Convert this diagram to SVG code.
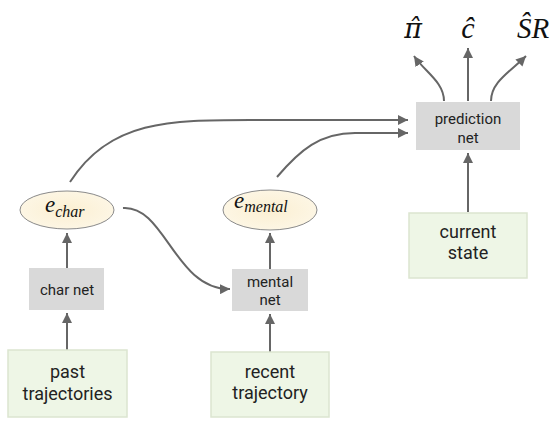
<svg xmlns="http://www.w3.org/2000/svg" width="560" height="425" viewBox="0 0 560 425">
<defs>
<marker id="ah" viewBox="0 0 10 10" refX="10" refY="5" markerWidth="10" markerHeight="10" markerUnits="userSpaceOnUse" orient="auto">
<path d="M0,0 L10,5 L0,10 Z" fill="#666"/>
</marker>
<radialGradient id="eg" cx="50%" cy="50%" r="50%">
<stop offset="0%" stop-color="#fbefd2"/>
<stop offset="100%" stop-color="#fdf6e4"/>
</radialGradient>
<style>
.gbox{fill:#eef6e6;stroke:#dbe5d0;stroke-width:1.5}
.nbox{fill:#d9d9d9}
.ell{fill:url(#eg);stroke:#8a8a8a;stroke-width:1}
.lbl{font-family:Roboto,"Liberation Sans",sans-serif;fill:#222;text-anchor:middle}
.big{font-size:18px}
.small{font-size:15px}
.math{font-family:"Liberation Serif","DejaVu Serif",serif;font-style:italic;fill:#111}
.conn path{fill:none;stroke:#666;stroke-width:2;marker-end:url(#ah)}
</style>
</defs>
<rect width="560" height="425" fill="#ffffff"/>
<g id="connectors" class="conn">
<path d="M67,350 L67,313"/>
<path d="M67,268 L67,233"/>
<path d="M270,352 L270,314"/>
<path d="M270,269 L270,233"/>
<path d="M468,212 L468,153"/>
<path d="M468,101 L468,48"/>
<path d="M444,101 C444,82 425,72 414,56"/>
<path d="M491,101 C491,82 510,72 526,56"/>
<path d="M70,182 C110,120 170,120 250,120 L408,120"/>
<path d="M277,177 C300,150 320,133 355,133 L408,133"/>
<path d="M123,208 C165,205 175,290 230,289"/>
</g>
<g id="past-trajectories">
<rect class="gbox" x="8" y="350" width="119" height="67"/>
<text class="lbl big" x="67.5" y="378">past</text>
<text class="lbl big" x="67.5" y="400">trajectories</text>
</g>
<g id="recent-trajectory">
<rect class="gbox" x="211" y="352" width="118" height="65"/>
<text class="lbl big" x="270" y="378">recent</text>
<text class="lbl big" x="270" y="399">trajectory</text>
</g>
<g id="current-state">
<rect class="gbox" x="409" y="213" width="118" height="65"/>
<text class="lbl big" x="468" y="238">current</text>
<text class="lbl big" x="468" y="259">state</text>
</g>
<g id="char-net">
<rect class="nbox" x="29" y="268" width="75" height="42"/>
<text class="lbl small" x="67" y="295">char net</text>
</g>
<g id="mental-net">
<rect class="nbox" x="232" y="269" width="76" height="42"/>
<text class="lbl small" x="270" y="287">mental</text>
<text class="lbl small" x="270" y="305">net</text>
</g>
<g id="prediction-net">
<rect class="nbox" x="416" y="102" width="104" height="48"/>
<text class="lbl small" x="468" y="124">prediction</text>
<text class="lbl small" x="468" y="143">net</text>
</g>
<g id="e-char">
<ellipse class="ell" cx="67" cy="210" rx="47" ry="19"/>
<text class="math" x="45" y="212" font-size="23">e<tspan font-size="16" dy="5">char</tspan></text>
</g>
<g id="e-mental">
<ellipse class="ell" cx="270" cy="210" rx="47" ry="20"/>
<text class="math" x="234" y="208" font-size="23">e<tspan font-size="16" dy="4">mental</tspan></text>
</g>
<g id="output-pi">
<text x="413" y="38" font-size="27" text-anchor="middle" font-family="'DejaVu Serif',serif" font-style="italic" fill="#111">π̂</text>
</g>
<g id="output-c">
<text class="math" x="468" y="38" font-size="30" text-anchor="middle">ĉ</text>
</g>
<g id="output-sr">
<text class="math" x="533" y="38" font-size="29" text-anchor="middle">ŜR</text>
</g>
</svg>
